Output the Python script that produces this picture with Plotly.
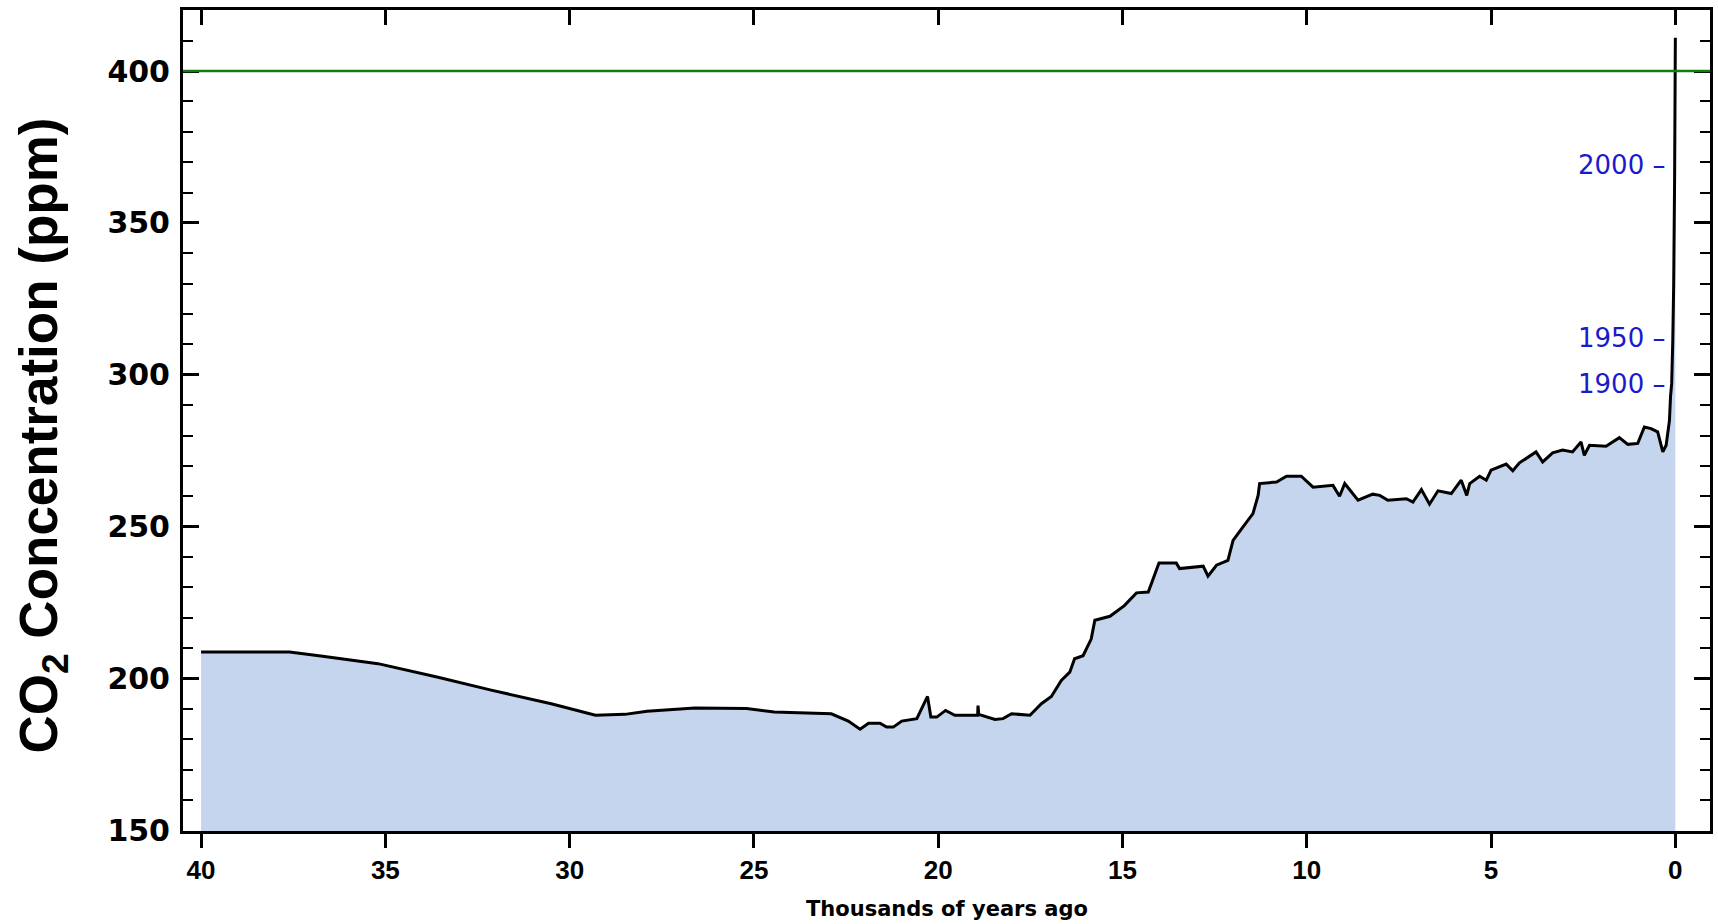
import plotly.graph_objects as go

# --- data: thousands of years ago vs CO2 concentration (ppm) ---
kyr_ago = [40.0, 37.6, 36.7, 35.2, 33.6, 32.1, 30.5, 29.3, 28.5, 27.9, 26.6, 25.2, 24.45, 22.9,
           22.44, 22.12, 21.89, 21.58, 21.40, 21.22, 20.99, 20.58, 20.29, 20.20, 20.04, 19.80,
           19.55, 18.93, 18.92, 18.90, 18.46, 18.24, 18.01, 17.51, 17.20, 16.93, 16.66, 16.43,
           16.30, 16.07, 15.85, 15.75, 15.34, 14.95, 14.62, 14.30, 14.01, 13.54, 13.45, 12.81,
           12.68, 12.45, 12.14, 12.00, 11.73, 11.46, 11.32, 11.28, 10.82, 10.55, 10.15, 9.83,
           9.29, 9.11, 8.97, 8.61, 8.21, 8.02, 7.80, 7.30, 7.12, 6.89, 6.67, 6.44, 6.08, 5.81,
           5.66, 5.58, 5.31, 5.13, 5.00, 4.59, 4.41, 4.23, 3.78, 3.60, 3.33, 3.06, 2.79, 2.56,
           2.47, 2.33, 1.88, 1.52, 1.29, 1.02, 0.84, 0.66, 0.48, 0.34, 0.25, 0.16, 0.13, 0.10,
           0.07, 0.045, 0.02, 0.005, 0.0]
co2_ppm = [208.7, 208.7, 207.3, 204.9, 200.5, 196.1, 191.7, 187.9, 188.2, 189.2, 190.3, 190.1, 189.0, 188.4,
           186.0, 183.3, 185.3, 185.3, 184.0, 184.0, 186.0, 186.8, 194.1, 187.3, 187.3, 189.5,
           187.9, 187.9, 191.1, 188.2, 186.5, 186.8, 188.4, 187.9, 191.7, 194.1, 199.4, 202.1,
           206.5, 207.5, 213.0, 219.2, 220.5, 224.0, 228.2, 228.5, 238.0, 238.0, 236.2, 237.0,
           233.7, 237.3, 238.9, 245.5, 249.9, 254.3, 260.3, 264.2, 264.7, 266.6, 266.6, 263.0,
           263.6, 260.0, 264.2, 258.7, 260.7, 260.3, 258.7, 259.2, 258.1, 262.2, 257.4, 261.8, 260.9, 265.3,
           260.3, 264.2, 266.6, 265.3, 268.6, 270.6, 268.4, 271.0, 274.6, 271.3, 274.3, 275.2, 274.6, 277.9,
           273.5, 276.8, 276.5, 279.3, 277.1, 277.4, 282.8, 282.3, 281.2, 274.6, 276.8, 285.0, 293.0, 297.0,
           311.0, 330.0, 365.0, 400.0, 411.0]

threshold_ppm = 400
year_labels = ["2000 \u2013", "1950 \u2013", "1900 \u2013"]
year_ppm = [369, 312, 297]
year_label_kyr = 0.24

x_ticks = [40, 35, 30, 25, 20, 15, 10, 5, 0]
y_ticks = [150, 200, 250, 300, 350, 400]

fig = go.Figure()
fig.add_trace(go.Scatter(
    x=kyr_ago, y=co2_ppm, mode="lines",
    line=dict(color="black", width=3),
    fill="tozeroy", fillcolor="#c6d5ee",
    hoverinfo="skip", showlegend=False))
# helper trace so the mirrored top axis (inside ticks) is drawn
fig.add_trace(go.Scatter(
    x=kyr_ago, y=co2_ppm, xaxis="x2", mode="lines",
    line=dict(color="rgba(0,0,0,0)", width=0),
    hoverinfo="skip", showlegend=False))

fig.add_shape(type="line", xref="paper", x0=0, x1=1, yref="y",
              y0=threshold_ppm, y1=threshold_ppm,
              line=dict(color="#107f10", width=2.4), layer="above")

for lab, ppm in zip(year_labels, year_ppm):
    fig.add_annotation(x=year_label_kyr, y=ppm, xref="x", yref="y", text=lab,
                       showarrow=False, xanchor="right", yanchor="middle",
                       font=dict(family="DejaVu Sans", size=26, color="#1a1acd"))

fig.add_annotation(xref="paper", yref="paper", x=-0.0922, y=0.482,
                   text="<b>CO<sub>2</sub> Concentration (ppm)</b>", textangle=-90,
                   showarrow=False, xanchor="center", yanchor="middle",
                   font=dict(family="Liberation Sans", size=53, color="black"))
fig.add_annotation(xref="paper", yref="paper", x=0.5, y=-0.095,
                   text="<b>Thousands of years ago</b>",
                   showarrow=False, xanchor="center", yanchor="middle",
                   font=dict(family="DejaVu Sans", size=21, color="black"))

xr = [40.49, -0.94]
fig.update_layout(
    width=1718, height=924,
    margin=dict(l=183, r=5, t=10, b=93),
    paper_bgcolor="white", plot_bgcolor="white",
    xaxis=dict(range=xr, tickvals=x_ticks, ticktext=[str(v) for v in x_ticks],
               ticks="outside", ticklen=14, tickwidth=2.5, tickcolor="black",
               showline=True, linewidth=3, linecolor="black", mirror=False,
               showgrid=False, zeroline=False,
               tickfont=dict(family="Liberation Sans", size=26, color="black", weight="bold")),
    xaxis2=dict(range=xr, overlaying="x", side="top", anchor="y",
                tickvals=x_ticks, ticks="inside", ticklen=15, tickwidth=2.5, tickcolor="black",
                showticklabels=False, showline=True, linewidth=3, linecolor="black",
                showgrid=False, zeroline=False),
    yaxis=dict(range=[149.8, 420.1], tickvals=y_ticks,
               ticks="inside", ticklen=16, tickwidth=2.5, tickcolor="black",
               minor=dict(dtick=10, tick0=150, ticks="inside", ticklen=10, tickwidth=2, tickcolor="black"),
               showline=True, linewidth=3, linecolor="black", mirror="ticks",
               showgrid=False, zeroline=False, ticklabelstandoff=4,
               tickfont=dict(family="DejaVu Sans", size=30, color="black", weight="bold")),
)

fig.write_html("out.html", config={"displayModeBar": False},
               post_script="document.body.style.margin='0';")
